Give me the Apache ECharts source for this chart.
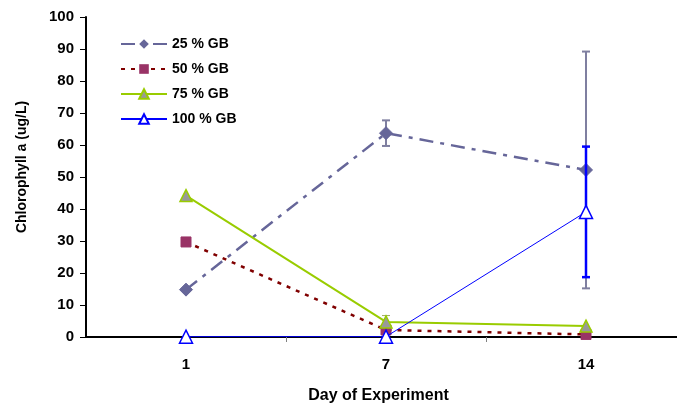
<!DOCTYPE html>
<html>
<head>
<meta charset="utf-8">
<script src="https://cdn.jsdelivr.net/npm/echarts@6/dist/echarts.min.js"></script>
<style>
html,body{margin:0;padding:0;background:#fff;}
#chart{width:677px;height:404px;}
</style>
</head>
<body>
<div id="chart"></div>
<script>
// Sampling days
var days = ['1', '7', '14'];
// Mean chlorophyll a per treatment (ug/L)
var gb25 = [14.8, 63.7, 52.2];
var gb50 = [29.7, 2.2, 0.8];
var gb75 = [44.2, 4.7, 3.4];
var gb100 = [0.1, 0.1, 39.1];
// Error-bar half widths (ug/L)
var err25 = [0, 4.0, 37.0];
var err75 = [0, 2.0, 0];
var err100 = [0, 0, 20.4];
var yTicks = [0, 10, 20, 30, 40, 50, 60, 70, 80, 90, 100];

var font = 'Liberation Sans, Arial, sans-serif';

// Each day sits in the middle of its own unit-wide slot on the x scale;
// the plot area runs a little past the right edge of the page.
function slot(i) { return i + 0.5; }
var xMax = (677 - 86) / 200;

function pts(values) {
  return values.map(function (v, i) { return [slot(i), v]; });
}

function errorSeries(name, means, errs, color, width, z) {
  var data = [];
  for (var i = 0; i < means.length; i++) {
    if (errs[i] > 0) data.push([slot(i), means[i] - errs[i], means[i] + errs[i]]);
  }
  return {
    type: 'custom',
    name: name + ' err',
    z: z,
    silent: true,
    renderItem: function (params, api) {
      var lo = api.coord([api.value(0), api.value(1)]);
      var hi = api.coord([api.value(0), api.value(2)]);
      var hw = 4;
      var st = {stroke: color, lineWidth: width};
      return {
        type: 'group',
        children: [
          {type: 'line', shape: {x1: lo[0], y1: lo[1], x2: hi[0], y2: hi[1]}, style: st},
          {type: 'line', shape: {x1: lo[0] - hw, y1: lo[1], x2: lo[0] + hw, y2: lo[1]}, style: st},
          {type: 'line', shape: {x1: hi[0] - hw, y1: hi[1], x2: hi[0] + hw, y2: hi[1]}, style: st}
        ]
      };
    },
    encode: {x: 0, y: [1, 2]},
    data: data
  };
}

var chart = echarts.init(document.getElementById('chart'), null, {renderer: 'canvas'});
chart.setOption({
  animation: false,
  backgroundColor: '#fff',
  grid: {left: 86, top: 17, right: 0, height: 320, containLabel: false, outerBoundsMode: 'none'},
  legend: {
    left: 115, top: 32, orient: 'vertical',
    itemWidth: 46, itemHeight: 12, itemGap: 11,
    textStyle: {fontFamily: font, fontWeight: 'bold', fontSize: 14, color: '#000'},
    data: ['25 % GB', '50 % GB', '75 % GB', '100 % GB']
  },
  xAxis: {
    type: 'value',
    min: 0, max: xMax,
    name: 'Day of Experiment',
    nameLocation: 'middle',
    nameGap: 51,
    nameTextStyle: {fontFamily: font, fontWeight: 'bold', fontSize: 16, color: '#000', padding: [0, 6, 0, 0]},
    axisLine: {lineStyle: {color: '#000', width: 2}},
    axisTick: {show: true, length: 5, customValues: [1, 2], lineStyle: {color: '#808080', width: 1}},
    splitLine: {show: false},
    axisLabel: {
      fontFamily: font, fontWeight: 'bold', fontSize: 15, color: '#000', margin: 20,
      customValues: days.map(function (d, i) { return slot(i); }),
      formatter: function (v) { return days[Math.round(v - 0.5)]; }
    }
  },
  yAxis: {
    type: 'value',
    min: yTicks[0], max: yTicks[yTicks.length - 1], interval: 10,
    name: 'Chlorophyll a (ug/L)',
    nameLocation: 'middle',
    nameGap: 57,
    nameTextStyle: {fontFamily: font, fontWeight: 'bold', fontSize: 14, color: '#000', padding: [0, 0, 0, 20]},
    axisLine: {show: true, lineStyle: {color: '#000', width: 2}},
    axisTick: {show: true, length: 6, lineStyle: {color: '#000', width: 1}},
    splitLine: {show: false},
    axisLabel: {fontFamily: font, fontWeight: 'bold', fontSize: 15, color: '#000', margin: 12}
  },
  series: [
    errorSeries('25 % GB', gb25, err25, '#7f7fa0', 2, 3),
    errorSeries('75 % GB', gb75, err75, '#a0b060', 1, 3),
    errorSeries('100 % GB', gb100, err100, '#0000ff', 2.5, 6),
    {
      name: '25 % GB', type: 'line', data: pts(gb25), z: 4,
      symbol: 'diamond', symbolSize: 13,
      lineStyle: {color: '#666699', width: 2.5, type: [14, 7, 4, 7]},
      itemStyle: {color: '#666699', borderColor: '#666699'}
    },
    {
      name: '50 % GB', type: 'line', data: pts(gb50), z: 4,
      symbol: 'rect', symbolSize: 10,
      lineStyle: {color: '#800000', width: 2.5, type: [4, 6]},
      itemStyle: {color: '#993366', borderColor: '#993366'}
    },
    {
      name: '75 % GB', type: 'line', data: pts(gb75), z: 5,
      symbol: 'triangle', symbolSize: 12,
      lineStyle: {color: '#99cc00', width: 2},
      itemStyle: {color: '#999999', borderColor: '#99cc00', borderWidth: 1.5}
    },
    {
      name: '100 % GB', type: 'line', data: pts(gb100), z: 7,
      symbol: 'triangle', symbolSize: 13,
      lineStyle: {color: '#0000ff', width: 1},
      itemStyle: {color: '#ffffff', borderColor: '#0000ff', borderWidth: 1.5}
    }
  ]
});
</script>
</body>
</html>
